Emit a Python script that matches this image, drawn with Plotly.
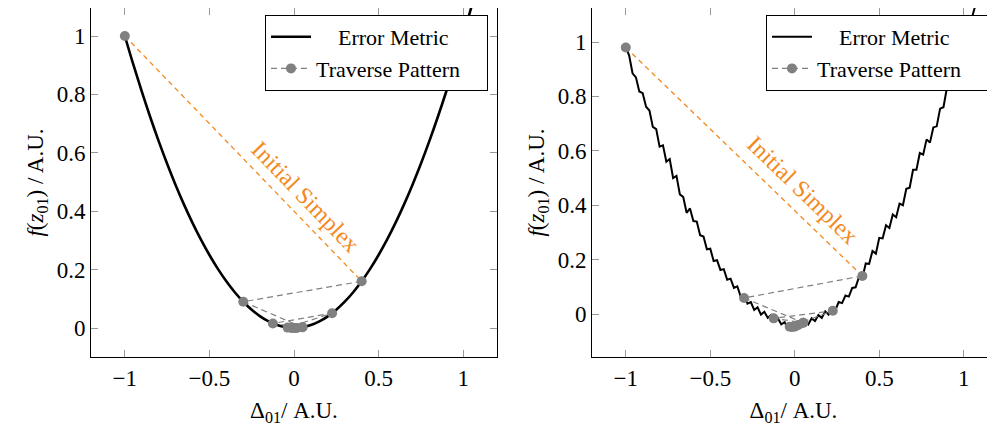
import plotly.graph_objects as go

# ---------------- data ----------------
smooth_x = [-1.00, -0.95, -0.90, -0.85, -0.80, -0.75, -0.70, -0.65, -0.60, -0.55, -0.50,
            -0.45, -0.40, -0.35, -0.30, -0.25, -0.20, -0.15, -0.10, -0.05, 0.00,
            0.05, 0.10, 0.15, 0.20, 0.25, 0.30, 0.35, 0.40, 0.45, 0.50,
            0.55, 0.60, 0.65, 0.70, 0.75, 0.80, 0.85, 0.90, 0.95, 1.00, 1.05]
smooth_y = [1.000, 0.9025, 0.810, 0.7225, 0.640, 0.5625, 0.490, 0.4225, 0.360, 0.3025, 0.250,
            0.2025, 0.160, 0.1225, 0.090, 0.0625, 0.040, 0.0225, 0.010, 0.0025, 0.000,
            0.0025, 0.010, 0.0225, 0.040, 0.0625, 0.090, 0.1225, 0.160, 0.2025, 0.250,
            0.3025, 0.360, 0.4225, 0.490, 0.5625, 0.640, 0.7225, 0.810, 0.9025, 1.000, 1.1025]

noisy_x = [-1.00, -0.98, -0.96, -0.94, -0.92, -0.90, -0.88, -0.86, -0.84, -0.82,
           -0.80, -0.78, -0.76, -0.74, -0.72, -0.70, -0.68, -0.66, -0.64, -0.62,
           -0.60, -0.58, -0.56, -0.54, -0.52, -0.50, -0.48, -0.46, -0.44, -0.42,
           -0.40, -0.38, -0.36, -0.34, -0.32, -0.30, -0.28, -0.26, -0.24, -0.22,
           -0.20, -0.18, -0.16, -0.14, -0.12, -0.10, -0.08, -0.06, -0.04, -0.02,
           0.00, 0.02, 0.04, 0.06, 0.08, 0.10, 0.12, 0.14, 0.16, 0.18,
           0.20, 0.22, 0.24, 0.26, 0.28, 0.30, 0.32, 0.34, 0.36, 0.38,
           0.40, 0.42, 0.44, 0.46, 0.48, 0.50, 0.52, 0.54, 0.56, 0.58,
           0.60, 0.62, 0.64, 0.66, 0.68, 0.70, 0.72, 0.74, 0.76, 0.78,
           0.80, 0.82, 0.84, 0.86, 0.88, 0.90, 0.92, 0.94, 0.96, 0.98,
           1.00, 1.02, 1.04, 1.06, 1.08]
noisy_y = [0.982, 0.950, 0.885, 0.870, 0.818, 0.812, 0.762, 0.748, 0.688, 0.680,
           0.615, 0.620, 0.560, 0.570, 0.500, 0.508, 0.440, 0.430, 0.372, 0.388,
           0.342, 0.340, 0.290, 0.285, 0.238, 0.240, 0.195, 0.198, 0.162, 0.165,
           0.126, 0.130, 0.096, 0.102, 0.064, 0.072, 0.038, 0.044, 0.015, 0.025,
           -0.002, 0.008, -0.014, -0.004, -0.026, -0.016, -0.038, -0.030, -0.052, -0.042,
           -0.058, -0.038, -0.048, -0.026, -0.038, -0.016, -0.026, -0.004, -0.014, 0.010,
           -0.002, 0.022, 0.014, 0.044, 0.040, 0.068, 0.064, 0.096, 0.098, 0.136,
           0.132, 0.186, 0.184, 0.232, 0.222, 0.280, 0.278, 0.326, 0.316, 0.366,
           0.356, 0.406, 0.400, 0.460, 0.464, 0.530, 0.530, 0.592, 0.586, 0.642,
           0.630, 0.686, 0.690, 0.755, 0.760, 0.830, 0.836, 0.905, 0.910, 0.978,
           0.988, 1.050, 1.070, 1.120, 1.160]

trav_x = [-1.0, 0.4, -0.3, 0.05, -0.125, 0.225, -0.0375, 0.05, 0.00625, -0.0156, 0.0172, 0.0023]
trav_y_left = [1.0, 0.16, 0.09, 0.0025, 0.0156, 0.0506, 0.0014, 0.0025, 0.0001, 0.0002, 0.0003, 0.0]
trav_x_right = [-1.0, 0.4, -0.3, 0.05, -0.125, 0.225, -0.03, 0.05, 0.005, -0.016, 0.02, 0.0]
trav_y_right = [0.98, 0.14, 0.059, -0.032, -0.016, 0.012, -0.047, -0.032, -0.045, -0.048, -0.040, -0.046]

x_ticks = [-1, -0.5, 0, 0.5, 1]
x_tick_text = ["\u22121", "\u22120.5", "0", "0.5", "1"]
y_ticks = [0, 0.2, 0.4, 0.6, 0.8, 1]
y_tick_text = ["0", "0.2", "0.4", "0.6", "0.8", "1"]

FONT = "Liberation Serif"
ORANGE = "#f28a1e"
GRAY = "#808080"
NB = "\u00a0"

fig = go.Figure()

def add_panel(xa, ya, cx, cy, tx, ty, legend, line_w, smooth):
    fig.add_trace(go.Scatter(x=cx, y=cy, mode="lines",
                             name=NB * 4 + "Error Metric",
                             line=dict(color="black", width=line_w,
                                       shape="spline" if smooth else "linear"),
                             xaxis=xa, yaxis=ya, legend=legend))
    fig.add_trace(go.Scatter(x=tx[:2], y=ty[:2], mode="lines", showlegend=False,
                             line=dict(color=ORANGE, width=1.3, dash="5px,4px"),
                             xaxis=xa, yaxis=ya))
    fig.add_trace(go.Scatter(x=tx[1:], y=ty[1:], mode="lines+markers",
                             name="Traverse Pattern" + NB * 4,
                             line=dict(color=GRAY, width=1.2, dash="6px,4px"),
                             marker=dict(color=GRAY, size=10),
                             xaxis=xa, yaxis=ya, legend=legend))
    fig.add_trace(go.Scatter(x=tx[:1], y=ty[:1], mode="markers", showlegend=False,
                             marker=dict(color=GRAY, size=10),
                             xaxis=xa, yaxis=ya))

add_panel("x", "y", smooth_x, smooth_y, trav_x, trav_y_left, "legend", 2.6, True)
add_panel("x2", "y2", noisy_x, noisy_y, trav_x_right, trav_y_right, "legend2", 2.0, False)

axis_common = dict(showline=True, linecolor="black", linewidth=1, mirror="allticks",
                   ticks="inside", ticklen=7, tickcolor="#999999", tickwidth=1,
                   showgrid=False, zeroline=False, automargin=False,
                   tickfont=dict(family=FONT, size=23, color="black"))

# the page body adds an 8px offset; figure coords = screen coords - 8
OFF = 8
L = 91 - OFF          # left edge of left plot
R_EDGE = 995 - OFF    # right edge of right plot
T = 0
B = 427 - (357 - OFF)
PW = R_EDGE - L
PH = 427 - T - B

def px(xs):
    return (xs - OFF - L) / PW

def py(ys):
    return (357 - ys) / PH

xt = dict(text="\u0394<sub>01</sub>/ A.U.", standoff=12, font=dict(family=FONT, size=23))
yt = dict(text="<i>f</i>(<i>z</i><sub>01</sub>) / A.U.", standoff=6, font=dict(family=FONT, size=23))

legend_common = dict(xanchor="right", yanchor="top", bgcolor="white", bordercolor="black",
                     borderwidth=1, font=dict(family=FONT, size=22), tracegroupgap=0,
                     itemwidth=40)

fig.update_layout(
    width=995, height=427,
    margin=dict(l=L, r=995 - R_EDGE, t=T, b=B),
    paper_bgcolor="white", plot_bgcolor="white",
    font=dict(family=FONT, size=23, color="black"),
    xaxis=dict(domain=[0, px(497)], range=[-1.2, 1.2], anchor="y",
               tickvals=x_ticks, ticktext=x_tick_text, title=xt, **axis_common),
    yaxis=dict(domain=[0, 1], range=[-0.0993, 1.0959], anchor="x",
               tickvals=y_ticks, ticktext=y_tick_text, title=yt, **axis_common),
    xaxis2=dict(domain=[px(592), 1.0], range=[-1.2, 1.185], anchor="y2",
                tickvals=x_ticks, ticktext=x_tick_text, title=xt, **axis_common),
    yaxis2=dict(domain=[0, 1], range=[-0.158, 1.125], anchor="x2",
                tickvals=y_ticks, ticktext=y_tick_text, title=yt, **axis_common),
    legend=dict(x=px(488), y=py(15), **legend_common),
    legend2=dict(x=px(989), y=py(15), **legend_common),
    annotations=[
        dict(text="Initial Simplex", x=0.07, y=0.449, xref="x", yref="y", showarrow=False,
             textangle=46, font=dict(family=FONT, size=24, color=ORANGE)),
        dict(text="Initial Simplex", x=0.047, y=0.456, xref="x2", yref="y2", showarrow=False,
             textangle=44, font=dict(family=FONT, size=24, color=ORANGE)),
    ],
)

fig.write_html("out.html")
